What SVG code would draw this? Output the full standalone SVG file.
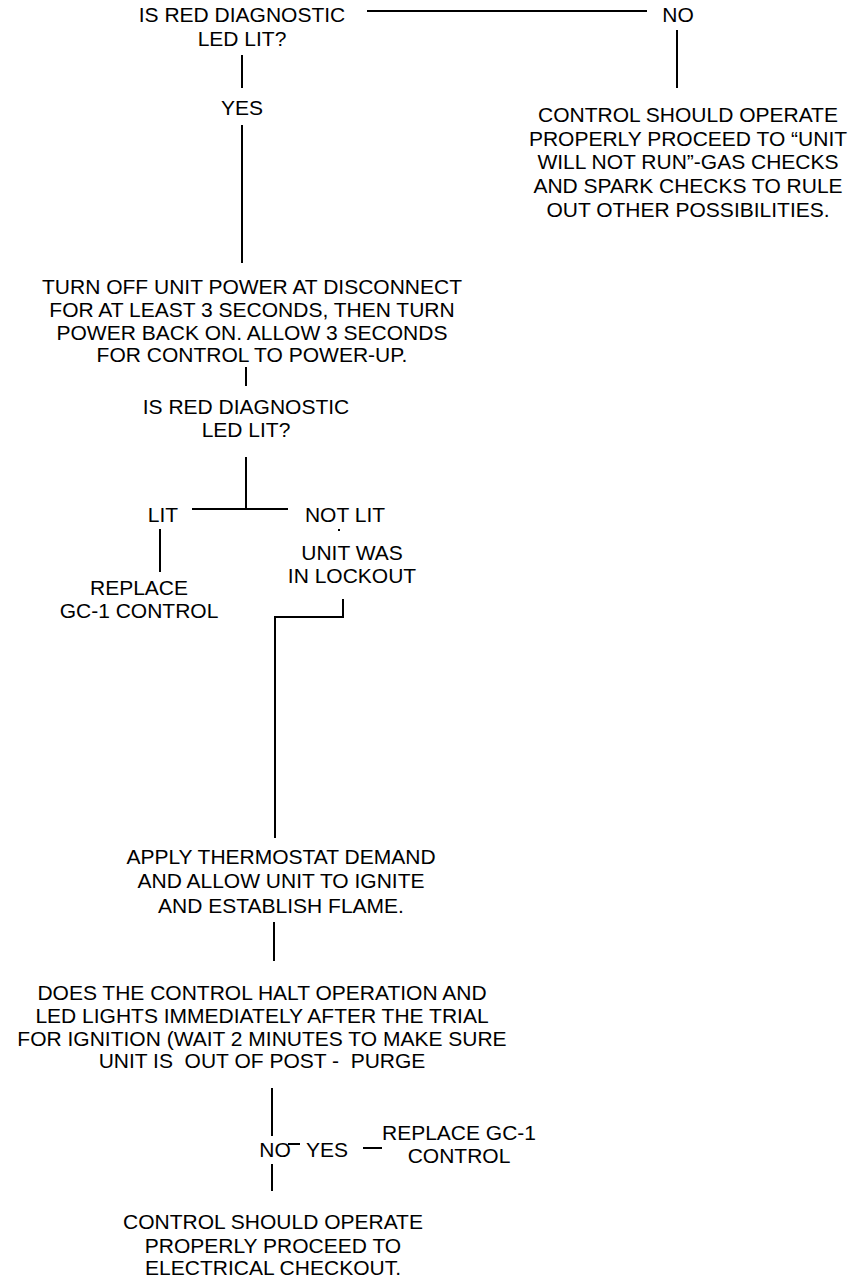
<svg xmlns="http://www.w3.org/2000/svg" width="856" height="1280" viewBox="0 0 856 1280">
<style>
text{font-family:"Liberation Sans",Arial,Helvetica,sans-serif;font-size:21px;fill:#000;text-anchor:middle;white-space:pre}
.c line,.c path{stroke:#000;stroke-width:2;fill:none}
</style>
<rect width="856" height="1280" fill="#fff"/>
<g class="c" id="connectors">
<line x1="367" y1="11" x2="647" y2="11"/>
<line x1="677" y1="30" x2="677" y2="88"/>
<line x1="242" y1="55" x2="242" y2="88"/>
<line x1="242" y1="125" x2="242" y2="263"/>
<line x1="246" y1="367" x2="246" y2="386"/>
<line x1="246" y1="457" x2="246" y2="509"/>
<line x1="192" y1="509" x2="288" y2="509"/>
<line x1="160" y1="529" x2="160" y2="572"/>
<line x1="339" y1="529" x2="339" y2="531"/>
<path d="M343 599V617H275V838"/>
<line x1="274" y1="922" x2="274" y2="961"/>
<line x1="272" y1="1088" x2="272" y2="1136"/>
<line x1="288" y1="1144" x2="300" y2="1144"/>
<line x1="363" y1="1148" x2="382" y2="1148"/>
<line x1="272" y1="1164" x2="272" y2="1191"/>
</g>
<g id="q1"><text x="242" y="22">IS RED DIAGNOSTIC</text><text x="242" y="46">LED LIT?</text></g>
<g id="no1"><text x="678" y="22">NO</text></g>
<g id="yes1"><text x="242" y="115">YES</text></g>
<g id="operate1"><text x="688" y="122">CONTROL SHOULD OPERATE</text><text x="688" y="146">PROPERLY PROCEED TO “UNIT</text><text x="688" y="169">WILL NOT RUN”-GAS CHECKS</text><text x="688" y="193">AND SPARK CHECKS TO RULE</text><text x="688" y="217">OUT OTHER POSSIBILITIES.</text></g>
<g id="turnoff"><text x="252" y="294">TURN OFF UNIT POWER AT DISCONNECT</text><text x="252" y="317">FOR AT LEAST 3 SECONDS, THEN TURN</text><text x="252" y="340">POWER BACK ON. ALLOW 3 SECONDS</text><text x="252" y="362">FOR CONTROL TO POWER-UP.</text></g>
<g id="q2"><text x="246" y="414">IS RED DIAGNOSTIC</text><text x="246" y="437">LED LIT?</text></g>
<g id="lit"><text x="163" y="522">LIT</text></g>
<g id="notlit"><text x="345" y="522">NOT LIT</text></g>
<g id="replace1"><text x="139" y="595">REPLACE</text><text x="139" y="618">GC-1 CONTROL</text></g>
<g id="lockout"><text x="352" y="560">UNIT WAS</text><text x="352" y="583">IN LOCKOUT</text></g>
<g id="apply"><text x="281" y="864">APPLY THERMOSTAT DEMAND</text><text x="281" y="888">AND ALLOW UNIT TO IGNITE</text><text x="281" y="913">AND ESTABLISH FLAME.</text></g>
<g id="q3"><text x="262" y="1000">DOES THE CONTROL HALT OPERATION AND</text><text x="262" y="1023">LED LIGHTS IMMEDIATELY AFTER THE TRIAL</text><text x="262" y="1046">FOR IGNITION (WAIT 2 MINUTES TO MAKE SURE</text><text x="262" y="1068">UNIT IS  OUT OF POST -  PURGE</text></g>
<g id="no2"><text x="275" y="1157">NO</text></g>
<g id="yes2"><text x="327" y="1157">YES</text></g>
<g id="replace2"><text x="459" y="1140">REPLACE GC-1</text><text x="459" y="1163">CONTROL</text></g>
<g id="operate2"><text x="273" y="1229">CONTROL SHOULD OPERATE</text><text x="273" y="1253">PROPERLY PROCEED TO</text><text x="273" y="1275">ELECTRICAL CHECKOUT.</text></g>
</svg>
